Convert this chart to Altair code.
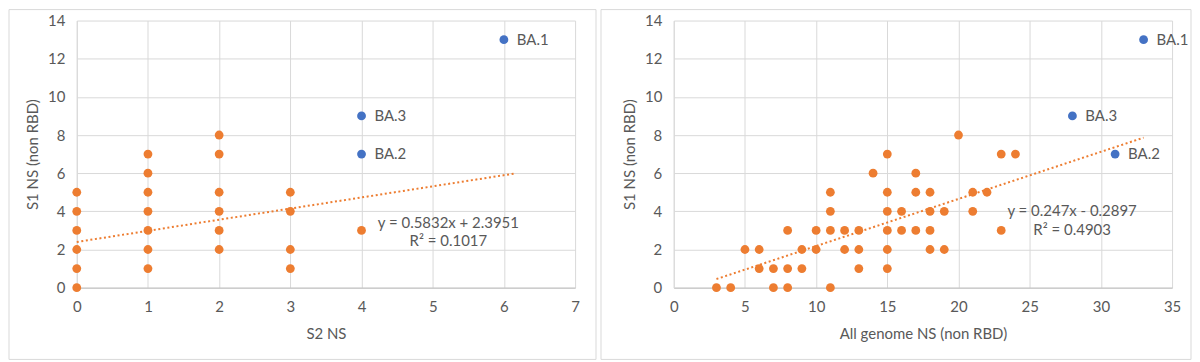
import altair as alt
import pandas as pd

# ---- Left chart data (S2 NS vs S1 NS non RBD) ----
left_x = [0, 0, 1, 3, 0, 1, 2, 3, 0, 1, 2, 4, 0, 1, 2, 3, 0, 1, 2, 3, 1, 1, 2, 2]
left_y = [0, 1, 1, 1, 2, 2, 2, 2, 3, 3, 3, 3, 4, 4, 4, 4, 5, 5, 5, 5, 6, 7, 7, 8]
left_ba_x = [6, 4, 4]
left_ba_y = [13, 9, 7]
ba_names = ["BA.1", "BA.3", "BA.2"]

# ---- Right chart data (All genome NS non RBD vs S1 NS non RBD) ----
right_x = [3, 4, 7, 8, 11,
           6, 7, 8, 9, 13, 15,
           5, 6, 9, 10, 12, 13, 15, 18, 19,
           8, 10, 11, 12, 13, 15, 16, 17, 18, 23,
           11, 15, 16, 18, 19, 21,
           11, 15, 17, 18, 21, 22,
           14, 17,
           15, 23, 24,
           20]
right_y = [0, 0, 0, 0, 0,
           1, 1, 1, 1, 1, 1,
           2, 2, 2, 2, 2, 2, 2, 2, 2,
           3, 3, 3, 3, 3, 3, 3, 3, 3, 3,
           4, 4, 4, 4, 4, 4,
           5, 5, 5, 5, 5, 5,
           6, 6,
           7, 7, 7,
           8]
right_ba_x = [33, 28, 31]
right_ba_y = [13, 9, 7]

# trendline equations as printed on the chart
left_slope, left_icpt = 0.5832, 2.3951
right_slope, right_icpt = 0.247, -0.2897
left_line_x = [0, 6.15]
right_line_x = [3, 33]
left_eq = ["y = 0.5832x + 2.3951", "R² = 0.1017"]
right_eq = ["y = 0.247x - 0.2897", "R² = 0.4903"]
left_eq_x = [5.22, 5.22]
left_eq_y = [3.41, 2.44]
right_eq_x = [27.98, 27.98]
right_eq_y = [4.02, 3.03]

ORANGE = "#ED7D31"
BLUE = "#4472C4"
TXT = "#595959"
GRID = "#D9D9D9"
FONT = "Lato"
FS = 15


def panel(px, py, bx, by, slope, icpt, lx, eq, eqx, eqy, xmax, xstep, xtitle, frame):
    W, H = 500, 268
    xs = alt.Scale(domain=[0, xmax], nice=False)
    ys = alt.Scale(domain=[0, 14], nice=False)
    xax = alt.Axis(values=list(range(0, xmax + 1, xstep)), title=xtitle, grid=True,
                   gridColor=GRID, domainColor="#BFBFBF", ticks=False, labelPadding=12,
                   labelFlush=False, labelOverlap=False, format="d",
                   labelColor=TXT, labelFont=FONT, labelFontSize=FS, titleColor=TXT,
                   titleFont=FONT, titleFontSize=FS, titleFontWeight="normal", titlePadding=12)
    yax = alt.Axis(values=list(range(0, 15, 2)), title="S1 NS (non RBD)", grid=True,
                   gridColor=GRID, domainColor=GRID, ticks=False, labelPadding=12,
                   labelFlush=False, labelOverlap=False, format="d",
                   labelColor=TXT, labelFont=FONT, labelFontSize=FS, titleColor=TXT,
                   titleFont=FONT, titleFontSize=FS, titleFontWeight="normal", titlePadding=7)
    X = alt.X("x:Q", scale=xs, axis=xax)
    Y = alt.Y("y:Q", scale=ys, axis=yax)

    pts = pd.DataFrame({"x": px, "y": py})
    ba = pd.DataFrame({"x": bx, "y": by, "name": ba_names})
    line = pd.DataFrame({"x": lx, "y": [slope * v + icpt for v in lx]})
    eqdf = pd.DataFrame({"x": eqx, "y": eqy, "t": eq})

    fr = alt.Chart(alt.Data(values=[{}])).mark_rect(
        fillOpacity=0, stroke=GRID, strokeWidth=1
    ).encode(x=alt.value(frame[0]), x2=alt.value(frame[1]),
             y=alt.value(frame[2]), y2=alt.value(frame[3]))

    o = alt.Chart(pts).mark_circle(size=78, opacity=1, color=ORANGE).encode(x=X, y=Y)
    b = alt.Chart(ba).mark_circle(size=78, opacity=1, color=BLUE).encode(x=X, y=Y)
    bt = alt.Chart(ba).mark_text(align="left", dx=13, font=FONT, fontSize=FS,
                                 color=TXT).encode(x=X, y=Y, text="name:N")
    ln = alt.Chart(line).mark_line(color=ORANGE, strokeWidth=2, strokeDash=[2, 2.6]).encode(
        x=X, y=Y)
    et = alt.Chart(eqdf).mark_text(align="center", font=FONT, fontSize=FS,
                                   color=TXT).encode(x=X, y=Y, text="t:N")
    return alt.layer(fr, o, b, ln, bt, et).properties(width=W, height=H)


left = panel(left_x, left_y, left_ba_x, left_ba_y, left_slope, left_icpt, left_line_x,
             left_eq, left_eq_x, left_eq_y, 7, 1, "S2 NS", (-68, 521, -11, 340))
right = panel(right_x, right_y, right_ba_x, right_ba_y, right_slope, right_icpt, right_line_x,
              right_eq, right_eq_x, right_eq_y, 35, 5, "All genome NS (non RBD)",
              (-73, 519, -11, 340))

chart = alt.hconcat(left, right, spacing=3).properties(padding=0).configure_view(stroke=None)

chart.save("out.html", embed_options={"renderer": "svg", "actions": False})
